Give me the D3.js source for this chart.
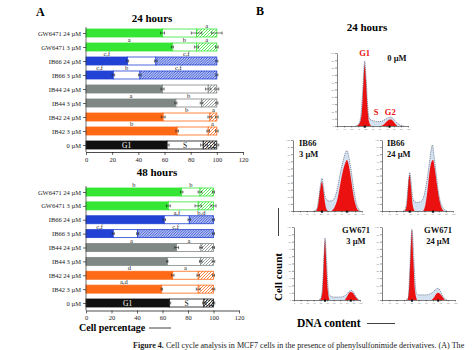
<!DOCTYPE html>
<html>
<head>
<meta charset="utf-8">
<script src="https://cdn.jsdelivr.net/npm/d3@7"></script>
<style>
body{margin:0;background:#fff}
svg{display:block}
svg text{font-family:"Liberation Serif","Times New Roman",serif}
</style>
</head>
<body>
<svg id="fig" width="474" height="350"></svg>
<script>
// ---- panel A data (cell percentage, top row first) ----
const categories = ["GW6471 24 µM","GW6471 3 µM","IB66 24 µM","IB66 3 µM","IB44 24 µM","IB44 3 µM","IB42 24 µM","IB42 3 µM","0 µM"];

const g1_24 = [58.5, 66, 31.8, 20.9, 58.5, 68.7, 59, 69.7, 62];
const s_24  = [26, 18.5, 21.6, 20.3, 34.9, 19.6, 35.7, 23.7, 27.6];
const g2_24 = [15.5, 15.5, 46.6, 58.8, 6.6, 11.7, 5.3, 6.6, 10.4];
const g1Err_24 = [1.5, 0.8, 0.8, 1, 1.2, 0.8, 1.5, 1, 1.5];
const sErr_24  = [4, 1.5, 1, 1, 2, 1, 1.5, 1, 2];
const g2Err_24 = [4, 1, 0.8, 0.8, 1.5, 0.8, 1, 1, 1.5];
const letters_24 = [["","","a"],["a","b","a"],["c,f","","c,f"],["c,f","b","c,f"],["","",""],["a","b",""],["","b","a"],["b","","a"],["","",""]];

const g1_48 = [75, 64.6, 61.4, 21.4, 71.1, 63.8, 68, 59.4, 65.4];
const s_48  = [14.4, 23.4, 19.6, 19.1, 19.1, 26.2, 20, 28.6, 27.1];
const g2_48 = [10.6, 12, 19, 59.5, 9.8, 10, 12, 12, 7.5];
const g1Err_48 = [1, 1.5, 1, 0.8, 1.5, 0.5, 1, 0.5, 1];
const sErr_48  = [1.5, 2.5, 1, 0.8, 1, 1, 1, 1.5, 1];
const g2Err_48 = [0.8, 2, 0.8, 0.8, 0.8, 1, 0.8, 1, 1];
const letters_48 = [["b","b",""],["","",""],["","a,f","b,d"],["c,f","","c,f"],["a","a",""],["","",""],["d","a",""],["a,d","",""],["","",""]];

const xTicks = [0, 20, 40, 60, 80, 100, 120];
const phaseNames = ["G1", "S", "G2"];

// ---- panel B data: DNA histograms, [channel, % of panel height] ----
const total_0 = [[26,0],[30,2],[33,10],[36,45],[38,80],[39,89],[41,65],[43,30],[45,12],[48,8],[52,7],[56,6],[60,6],[64,7],[68,9],[72,11],[75,12],[78,11],[82,7],[86,3],[90,1],[94,0]];
const g1_0 = [[28,0],[32,4],[35,20],[37,55],[39,84],[41,60],[43,25],[45,6],[48,0]];
const g2_0 = [[62,0],[66,2],[70,6],[74,9],[76,9],[79,7],[82,3],[85,0]];

const total_66a = [[30,0],[34,2],[37,15],[40,38],[42,46],[44,35],[46,22],[49,16],[53,14],[57,15],[61,20],[65,35],[69,55],[73,72],[76,82],[78,85],[80,80],[83,65],[86,45],[89,25],[92,10],[95,3],[98,0]];
const g1_66a = [[33,0],[36,6],[39,28],[42,41],[44,30],[46,14],[48,4],[51,0]];
const g2_66a = [[56,0],[60,5],[64,15],[68,35],[72,55],[76,68],[78,72],[80,68],[83,52],[86,32],[89,15],[92,5],[96,0]];

const total_66b = [[30,0],[33,3],[36,25],[38,48],[39,54],[41,40],[43,20],[46,13],[50,12],[54,13],[58,18],[62,35],[66,62],[69,85],[71,93],[73,80],[76,55],[79,30],[82,14],[85,6],[88,2],[92,0]];
const g1_66b = [[32,0],[35,10],[37,38],[39,51],[41,32],[43,10],[46,0]];
const g2_66b = [[58,0],[61,8],[64,28],[67,55],[70,70],[72,72],[74,62],[77,40],[80,20],[83,7],[87,0]];

const total_gwa = [[38,0],[41,3],[44,30],[46,70],[47,85],[49,60],[51,25],[53,8],[56,5],[60,4],[65,4],[70,4],[75,5],[80,8],[84,12],[87,13],[90,11],[93,6],[96,2],[99,0]];
const g1_gwa = [[40,0],[43,12],[45,50],[47,82],[49,50],[51,15],[54,0]];
const g2_gwa = [[77,0],[80,4],[83,9],[86,11],[89,10],[92,6],[95,2],[98,0]];

const total_gwb = [[33,0],[36,3],[38,40],[40,85],[41,97],[43,70],[45,30],[47,10],[50,7],[55,7],[60,7],[65,8],[70,11],[74,15],[77,16],[80,12],[83,6],[86,2],[89,0]];
const g1_gwb = [[35,0],[37,15],[39,60],[41,96],[43,55],[45,15],[48,0]];
const g2_gwb = [[68,0],[71,3],[74,8],[77,10],[80,8],[83,4],[86,0]];

const FONT = "Liberation Serif, Times New Roman, serif";
const svg = d3.select("#fig").attr("font-family", FONT);
svg.append("rect").attr("width", 474).attr("height", 350).attr("fill", "#fff");
const defs = svg.append("defs");

const compound = d => d.split(" ")[0];
const colors = d3.scaleOrdinal()
  .domain(["GW6471", "IB66", "IB44", "IB42", "0"])
  .range(["#35e635", "#2142d4", "#7f8884", "#ff6a17", "#111111"]);

// hatch patterns for G2
colors.domain().forEach((c, i) => {
  const w = c === "IB66" ? 2.6 : 3;
  const p = defs.append("pattern")
    .attr("id", `hatch${i}`)
    .attr("patternUnits", "userSpaceOnUse")
    .attr("width", w)
    .attr("height", w);
  p.append("rect").attr("width", w).attr("height", w).attr("fill", "#fff");
  p.append("path")
    .attr("d", `M-1,1 l2,-2 M0,${w} l${w},-${w} M${w - 1},${w + 1} l2,-2`)
    .attr("stroke", colors(c))
    .attr("stroke-width", c === "IB66" ? 1 : 0.8);
});
const hatchOf = c => `url(#hatch${colors.domain().indexOf(c)})`;

function drawBars(o) {
  const g = svg.append("g");
  const x = d3.scaleLinear().domain([0, 120]).range([86, o.x120]);
  const y = d3.scalePoint().domain(categories).range([o.top, o.bottom]);
  const bh = 8;

  g.append("text").attr("x", o.titleX).attr("y", o.titleY)
    .attr("text-anchor", "middle").attr("font-weight", "bold").attr("font-size", 11)
    .text(o.title);

  categories.forEach((cat, i) => {
    const c = compound(cat);
    const col = colors(c);
    const starts = [0, o.g1[i], o.g1[i] + o.s[i]];
    const vals = [o.g1[i], o.s[i], o.g2[i]];
    const errs = [o.g1Err[i], o.sErr[i], o.g2Err[i]];
    const cy = y(cat);
    vals.forEach((v, k) => {
      g.append("rect")
        .attr("x", x(starts[k])).attr("y", cy - bh / 2)
        .attr("width", x(starts[k] + v) - x(starts[k])).attr("height", bh)
        .attr("fill", k === 0 ? col : k === 1 ? "#fff" : hatchOf(c))
        .attr("stroke", col).attr("stroke-width", 0.8);
    });
    // error bars at each segment end
    vals.forEach((v, k) => {
      const end = starts[k] + v;
      const e = errs[k];
      g.append("path")
        .attr("d", `M${x(end - e)},${cy}H${x(end + e)}M${x(end - e)},${cy - 1.5}v3M${x(end + e)},${cy - 1.5}v3`)
        .attr("stroke", "#222").attr("stroke-width", 0.6).attr("fill", "none");
    });
    // significance letters
    o.letters[i].forEach((t, k) => {
      if (!t) return;
      g.append("text")
        .attr("x", x(starts[k] + vals[k] / 2)).attr("y", cy - bh / 2 - 0.8)
        .attr("text-anchor", "middle").attr("font-size", 6.5).attr("fill", "#222")
        .text(t);
    });
    if (c === "0") {
      phaseNames.forEach((t, k) => {
        g.append("text")
          .attr("x", x(starts[k] + vals[k] / 2) + (k === 2 ? 1 : 0)).attr("y", cy + 2.6)
          .attr("text-anchor", "middle").attr("font-size", 7.5)
          .attr("fill", k === 0 ? "#fff" : "#111")
          .text(t);
      });
    }
  });

  const ya = g.append("g").attr("transform", "translate(86,0)")
    .call(d3.axisLeft(y).tickSize(3).tickPadding(2).tickSizeOuter(0));
  ya.attr("font-family", FONT);
  ya.select(".domain").remove();
  ya.selectAll("text").attr("font-size", 6.5).attr("fill", "#222");
  ya.selectAll("line").attr("stroke-width", 0.6);
  g.append("line").attr("x1", 86).attr("x2", 86).attr("y1", o.top - 6).attr("y2", o.axisY)
    .attr("stroke", "#333").attr("stroke-width", 0.7);

  const xa = g.append("g").attr("transform", `translate(0,${o.axisY})`)
    .call(d3.axisBottom(x).tickValues(xTicks).tickSize(3).tickPadding(2).tickSizeOuter(0));
  xa.attr("font-family", FONT);
  xa.select(".domain").attr("stroke-width", 0.7);
  xa.selectAll("line").attr("stroke-width", 0.6);
  xa.selectAll("text").attr("font-size", 6.5).attr("fill", "#222");
}

svg.append("text").attr("x", 36).attr("y", 16).attr("font-weight", "bold").attr("font-size", 12).text("A");

drawBars({ g1: g1_24, s: s_24, g2: g2_24, g1Err: g1Err_24, sErr: sErr_24, g2Err: g2Err_24,
  letters: letters_24, top: 33, bottom: 145, axisY: 152, x120: 243,
  title: "24 hours", titleX: 152, titleY: 22 });
drawBars({ g1: g1_48, s: s_48, g2: g2_48, g1Err: g1Err_48, sErr: sErr_48, g2Err: g2Err_48,
  letters: letters_48, top: 192, bottom: 303, axisY: 310.5, x120: 239,
  title: "48 hours", titleX: 157, titleY: 176 });

svg.append("text").attr("x", 79).attr("y", 331).attr("font-weight", "bold").attr("font-size", 10)
  .text("Cell percentage");
svg.append("line").attr("x1", 149).attr("x2", 171).attr("y1", 328).attr("y2", 328)
  .attr("stroke", "#111").attr("stroke-width", 0.8);

// ---- panel B ----
svg.append("text").attr("x", 256).attr("y", 15).attr("font-weight", "bold").attr("font-size", 12).text("B");
svg.append("text").attr("x", 367).attr("y", 31).attr("text-anchor", "middle")
  .attr("font-weight", "bold").attr("font-size", 11).text("24 hours");

const red = "#ec1111";
function drawHist(b, total, g1, g2) {
  const g = svg.append("g");
  const xs = d3.scaleLinear().domain([0, 100]).range([b.x0, b.x1]);
  const ys = d3.scaleLinear().domain([0, 100]).range([b.yb, b.yt]);
  const area = d3.area().x(d => xs(d[0])).y0(ys(0)).y1(d => ys(d[1])).curve(d3.curveMonotoneX);
  const line = d3.line().x(d => xs(d[0])).y(d => ys(d[1])).curve(d3.curveMonotoneX);

  g.append("path").datum(total).attr("d", area).attr("fill", "#d3e1f0");
  g.append("path").datum(g1).attr("d", area).attr("fill", red);
  g.append("path").datum(g2).attr("d", area).attr("fill", red);
  g.append("path").datum(total).attr("d", line).attr("fill", "none")
    .attr("stroke", "#55607a").attr("stroke-width", 0.7).attr("stroke-dasharray", "1.2,0.9");

  const ya = g.append("g").attr("transform", `translate(${b.x0},0)`)
    .call(d3.axisLeft(ys).ticks(8).tickSize(2).tickPadding(1).tickSizeOuter(0));
  const xa = g.append("g").attr("transform", `translate(0,${b.yb})`)
    .call(d3.axisBottom(xs).ticks(10).tickSize(1.5).tickPadding(1).tickSizeOuter(0));
  [ya, xa].forEach(a => {
    a.attr("font-family", FONT);
    a.select(".domain").attr("stroke-width", 0.5);
    a.selectAll("line").attr("stroke-width", 0.4);
    a.selectAll("text").attr("font-size", 2.6).attr("fill", "#777");
  });
  // peak markers on the channel axis
  [g1, g2].forEach(arr => {
    const pk = d3.greatest(arr, d => d[1])[0];
    g.append("rect").attr("x", xs(pk) - 1).attr("y", b.yb - 0.5).attr("width", 2).attr("height", 2.2).attr("fill", "#111");
  });
  b.label.forEach((t, k) => {
    g.append("text").attr("x", b.lx).attr("y", b.ly + k * 11)
      .attr("text-anchor", b.anchor).attr("font-weight", "bold").attr("font-size", 8.5).attr("fill", "#111")
      .text(t);
  });
  return { xs, ys };
}

const h0 = drawHist({ x0: 337, x1: 408, yt: 53, yb: 126, label: ["0 µM"], lx: 397, ly: 61, anchor: "middle" }, total_0, g1_0, g2_0);
[["G1", 39, 95], ["S", 55, 14], ["G2", 75, 14]].forEach(([t, cx, cyv]) => {
  svg.append("text").attr("x", h0.xs(cx)).attr("y", h0.ys(cyv) - 1)
    .attr("text-anchor", "middle").attr("font-weight", "bold").attr("font-size", 8.5).attr("fill", red).text(t);
});
drawHist({ x0: 293, x1: 362, yt: 140, yb: 211, label: ["IB66", "3 µM"], lx: 299, ly: 146, anchor: "start" }, total_66a, g1_66a, g2_66a);
drawHist({ x0: 382, x1: 453, yt: 140, yb: 211, label: ["IB66", "24 µM"], lx: 387, ly: 146, anchor: "start" }, total_66b, g1_66b, g2_66b);
drawHist({ x0: 294, x1: 360, yt: 227, yb: 300, label: ["GW671", "3 µM"], lx: 356, ly: 233, anchor: "middle" }, total_gwa, g1_gwa, g2_gwa);
drawHist({ x0: 382, x1: 455, yt: 227, yb: 300, label: ["GW671", "24 µM"], lx: 438, ly: 233, anchor: "middle" }, total_gwb, g1_gwb, g2_gwb);

svg.append("text").attr("transform", "translate(282,301) rotate(-90)")
  .attr("font-weight", "bold").attr("font-size", 11).text("Cell count");
svg.append("line").attr("x1", 278.5).attr("x2", 278.5).attr("y1", 208).attr("y2", 236)
  .attr("stroke", "#111").attr("stroke-width", 0.8);

svg.append("text").attr("x", 297).attr("y", 327).attr("font-weight", "bold").attr("font-size", 11.5).text("DNA content");
svg.append("line").attr("x1", 367).attr("x2", 395).attr("y1", 323.5).attr("y2", 323.5)
  .attr("stroke", "#111").attr("stroke-width", 0.8);

// caption
const cap = svg.append("text").attr("x", 133).attr("y", 347.5).attr("font-size", 8.1).attr("fill", "#222");
cap.append("tspan").attr("font-weight", "bold").text("Figure 4.");
cap.append("tspan").text(" Cell cycle analysis in MCF7 cells in the presence of phenylsulfonimide derivatives. (A) The");
</script>
</body>
</html>
